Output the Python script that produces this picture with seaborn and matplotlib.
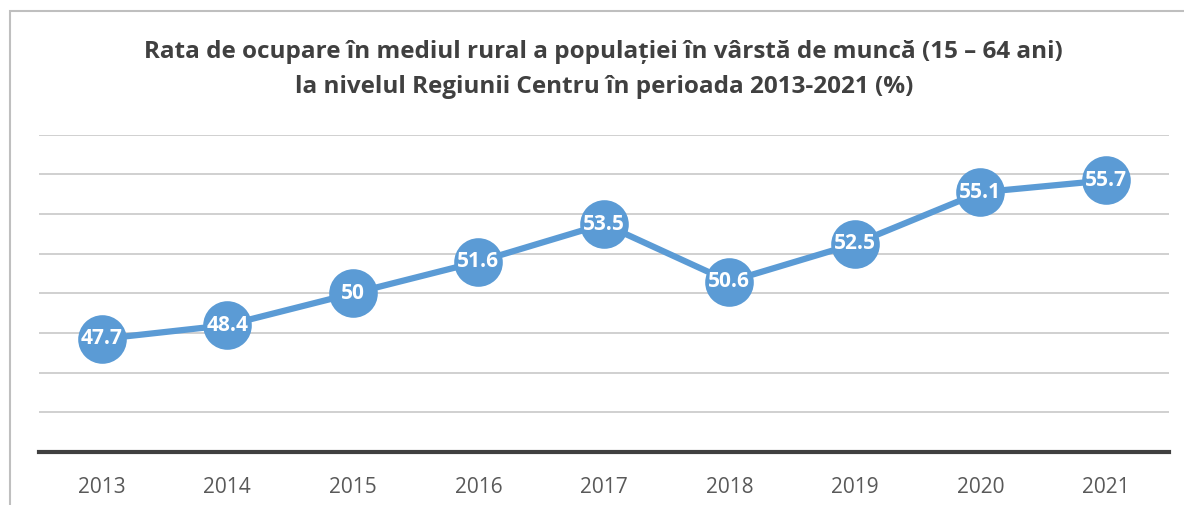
import pandas as pd
import seaborn as sns
import matplotlib.pyplot as plt
from matplotlib.patches import Rectangle

years = ['2013', '2014', '2015', '2016', '2017', '2018', '2019', '2020', '2021']
rates = [47.7, 48.4, 50, 51.6, 53.5, 50.6, 52.5, 55.1, 55.7]
labels = ['47.7', '48.4', '50', '51.6', '53.5', '50.6', '52.5', '55.1', '55.7']

df = pd.DataFrame({'year': years, 'rate': rates})

sns.set_theme(style='white')
plt.rcParams['font.family'] = ['Open Sans', 'DejaVu Sans']

blue = '#5b9bd5'

fig = plt.figure(figsize=(11.84, 5.05), dpi=100)
ax = fig.add_axes([0.033, 0.105, 0.954, 0.628])

# chart frame
fig.patches.append(Rectangle((10 / 1184, -0.1), 1.2, 1 - 11 / 505 + 0.1,
                             transform=fig.transFigure, fill=False,
                             edgecolor='#bfbfbf', linewidth=1.5))

sns.lineplot(data=df, x='year', y='rate', ax=ax, color=blue, linewidth=4.5,
             marker='o', markersize=35, markeredgewidth=0, sort=False)

for i, (v, lab) in enumerate(zip(rates, labels)):
    ax.text(i, v, lab, ha='center', va='center', color='white',
            fontsize=15, fontweight='bold')

ax.set_xlim(-0.5, len(years) - 0.5)
ax.set_ylim(42, 58)
ax.set_yticks(range(42, 59, 2))
ax.yaxis.grid(True, color='#c8c8c8', linewidth=1.2)
ax.set_yticklabels([])
ax.tick_params(axis='y', length=0)
ax.tick_params(axis='x', length=0, labelsize=15, labelcolor='#595959', pad=18)
ax.set_xlabel('')
ax.set_ylabel('')
for s in ['top', 'right', 'left']:
    ax.spines[s].set_visible(False)
ax.spines['bottom'].set_color('#404040')
ax.spines['bottom'].set_linewidth(3)
ax.set_axisbelow(True)

fig.text(0.51, 0.898, 'Rata de ocupare în mediul rural a populației în vârstă de muncă (15 – 64 ani)',
         ha='center', va='center', fontsize=17.5, fontweight='bold', color='#404040')
fig.text(0.51, 0.828, 'la nivelul Regiunii Centru în perioada 2013-2021 (%)',
         ha='center', va='center', fontsize=17.5, fontweight='bold', color='#404040')

fig.savefig('out.png', dpi=100)
